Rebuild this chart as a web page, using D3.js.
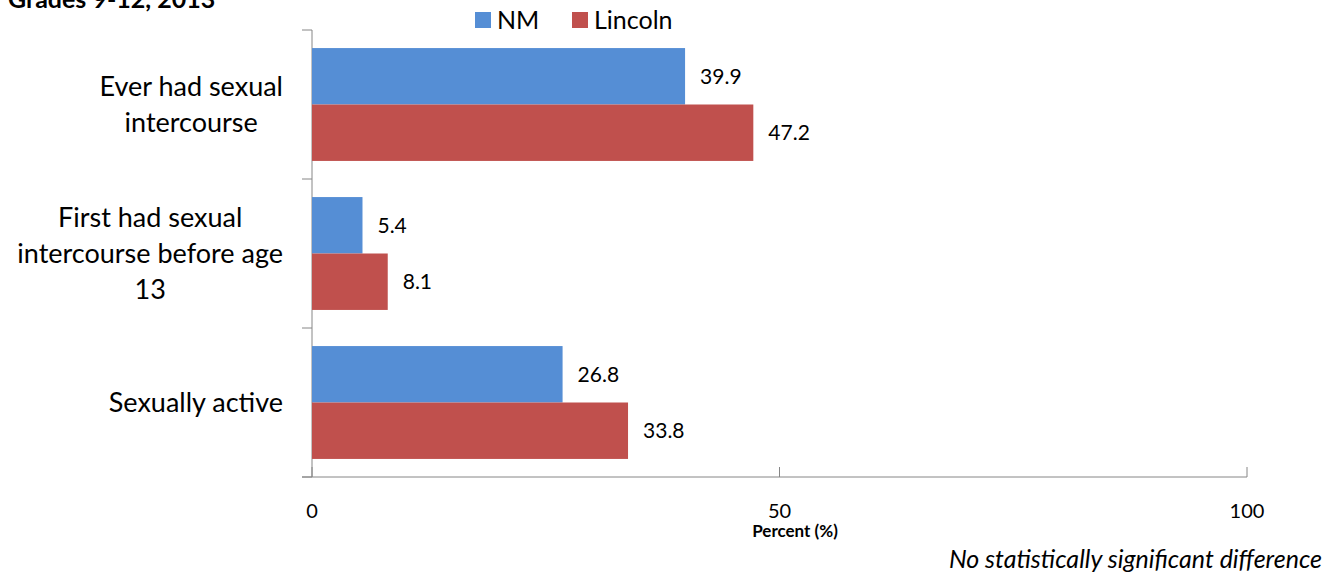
<!DOCTYPE html>
<meta charset='utf-8'>
<style>
  body { margin:0; background:#fff; }
  text { font-family:Lato, 'Open Sans', sans-serif; fill:#000; }
</style>
<body>
  <script src='https://d3js.org/d3.v7.min.js'></script>
  <script>

    var categories = ['Ever had sexual intercourse', 'First had sexual intercourse before age 13', 'Sexually active'];
    var catLines = [['Ever had sexual', 'intercourse'], ['First had sexual', 'intercourse before age', '13'], ['Sexually active']];
    var seriesNames = ['NM', 'Lincoln'];
    var nmValues = [39.9, 5.4, 26.8];
    var lincolnValues = [47.2, 8.1, 33.8];
    var xTicks = [0, 50, 100];
    var colors = ['#558ed5', '#c0504d'];

    var width = 1335;
    var height = 575;

    var svg = d3.select('body').append('svg')
      .attr('width', width)
      .attr('height', height);

    var x = d3.scaleLinear().domain([0, 100]).range([312, 1247]);
    var y = d3.scaleBand().domain(categories).range([30, 477]);
    var inner = d3.scaleBand().domain(seriesNames).range([0, y.bandwidth()]).paddingOuter(0.32);

    // title, partly cut off at top like the source
    svg.append('text')
      .attr('x', 8).attr('y', 8)
      .style('font-size', '25px').style('font-weight', 'bold')
      .text('Grades 9-12, 2013');

    // left axis line and tick marks
    svg.append('line')
      .attr('x1', 312).attr('x2', 312).attr('y1', 30).attr('y2', 477)
      .attr('stroke', '#868686');
    var yBounds = categories.map(d => y(d)).concat([477]);
    svg.selectAll('.ytick').data(yBounds).enter().append('line')
      .attr('x1', 302).attr('x2', 312)
      .attr('y1', d => d).attr('y2', d => d)
      .attr('stroke', '#868686');

    // bottom axis
    svg.append('line')
      .attr('x1', 302).attr('x2', 1247).attr('y1', 477).attr('y2', 477)
      .attr('stroke', '#868686');
    svg.selectAll('.xtick').data(xTicks).enter().append('line')
      .attr('x1', d => x(d)).attr('x2', d => x(d))
      .attr('y1', 467).attr('y2', 477)
      .attr('stroke', '#868686');
    svg.selectAll('.xlabel').data(xTicks).enter().append('text')
      .attr('x', d => x(d)).attr('y', 518)
      .attr('text-anchor', 'middle')
      .style('font-size', '20px')
      .text(d => d);

    svg.append('text')
      .attr('x', 795).attr('y', 537)
      .attr('text-anchor', 'middle')
      .style('font-size', '17px').style('font-weight', 'bold')
      .text('Percent (%)');

    svg.append('text')
      .attr('x', 1322).attr('y', 568)
      .attr('text-anchor', 'end')
      .style('font-size', '25px').style('font-style', 'italic')
      .text('No statistically significant difference');

    // bars
    var series = [nmValues, lincolnValues];
    series.forEach(function(vals, si) {
      var g = svg.append('g');
      g.selectAll('rect').data(vals).enter().append('rect')
        .attr('x', x(0))
        .attr('y', (d, i) => y(categories[i]) + inner(seriesNames[si]))
        .attr('width', d => x(d) - x(0))
        .attr('height', inner.bandwidth())
        .attr('fill', colors[si]);
      g.selectAll('text').data(vals).enter().append('text')
        .attr('x', d => x(d) + 15)
        .attr('y', (d, i) => y(categories[i]) + inner(seriesNames[si]) + inner.bandwidth() / 2)
        .attr('dy', '0.35em')
        .style('font-size', '21px')
        .text(d => d.toFixed(1));
    });

    // category labels: lines centred on each other, block right-aligned to x=283
    catLines.forEach(function(lines, i) {
      var cy = y(categories[i]) + y.bandwidth() / 2;
      var t = svg.append('text')
        .attr('text-anchor', 'middle')
        .style('font-size', '27px');
      var spans = lines.map(function(l, j) {
        return t.append('tspan')
          .attr('y', cy + (j - (lines.length - 1) / 2) * 36)
          .attr('dy', '0.35em')
          .text(l);
      });
      var maxW = d3.max(spans, s => s.node().getComputedTextLength());
      spans.forEach(s => s.attr('x', 283 - maxW / 2));
    });

    // legend
    var legend = svg.append('g');
    var legX = [475, 572];
    seriesNames.forEach(function(n, i) {
      legend.append('rect')
        .attr('x', legX[i]).attr('y', 12).attr('width', 16).attr('height', 16)
        .attr('fill', colors[i]);
      legend.append('text')
        .attr('x', legX[i] + 22).attr('y', 20).attr('dy', '0.35em')
        .style('font-size', '25px')
        .text(n);
    });
  </script>
</body>
